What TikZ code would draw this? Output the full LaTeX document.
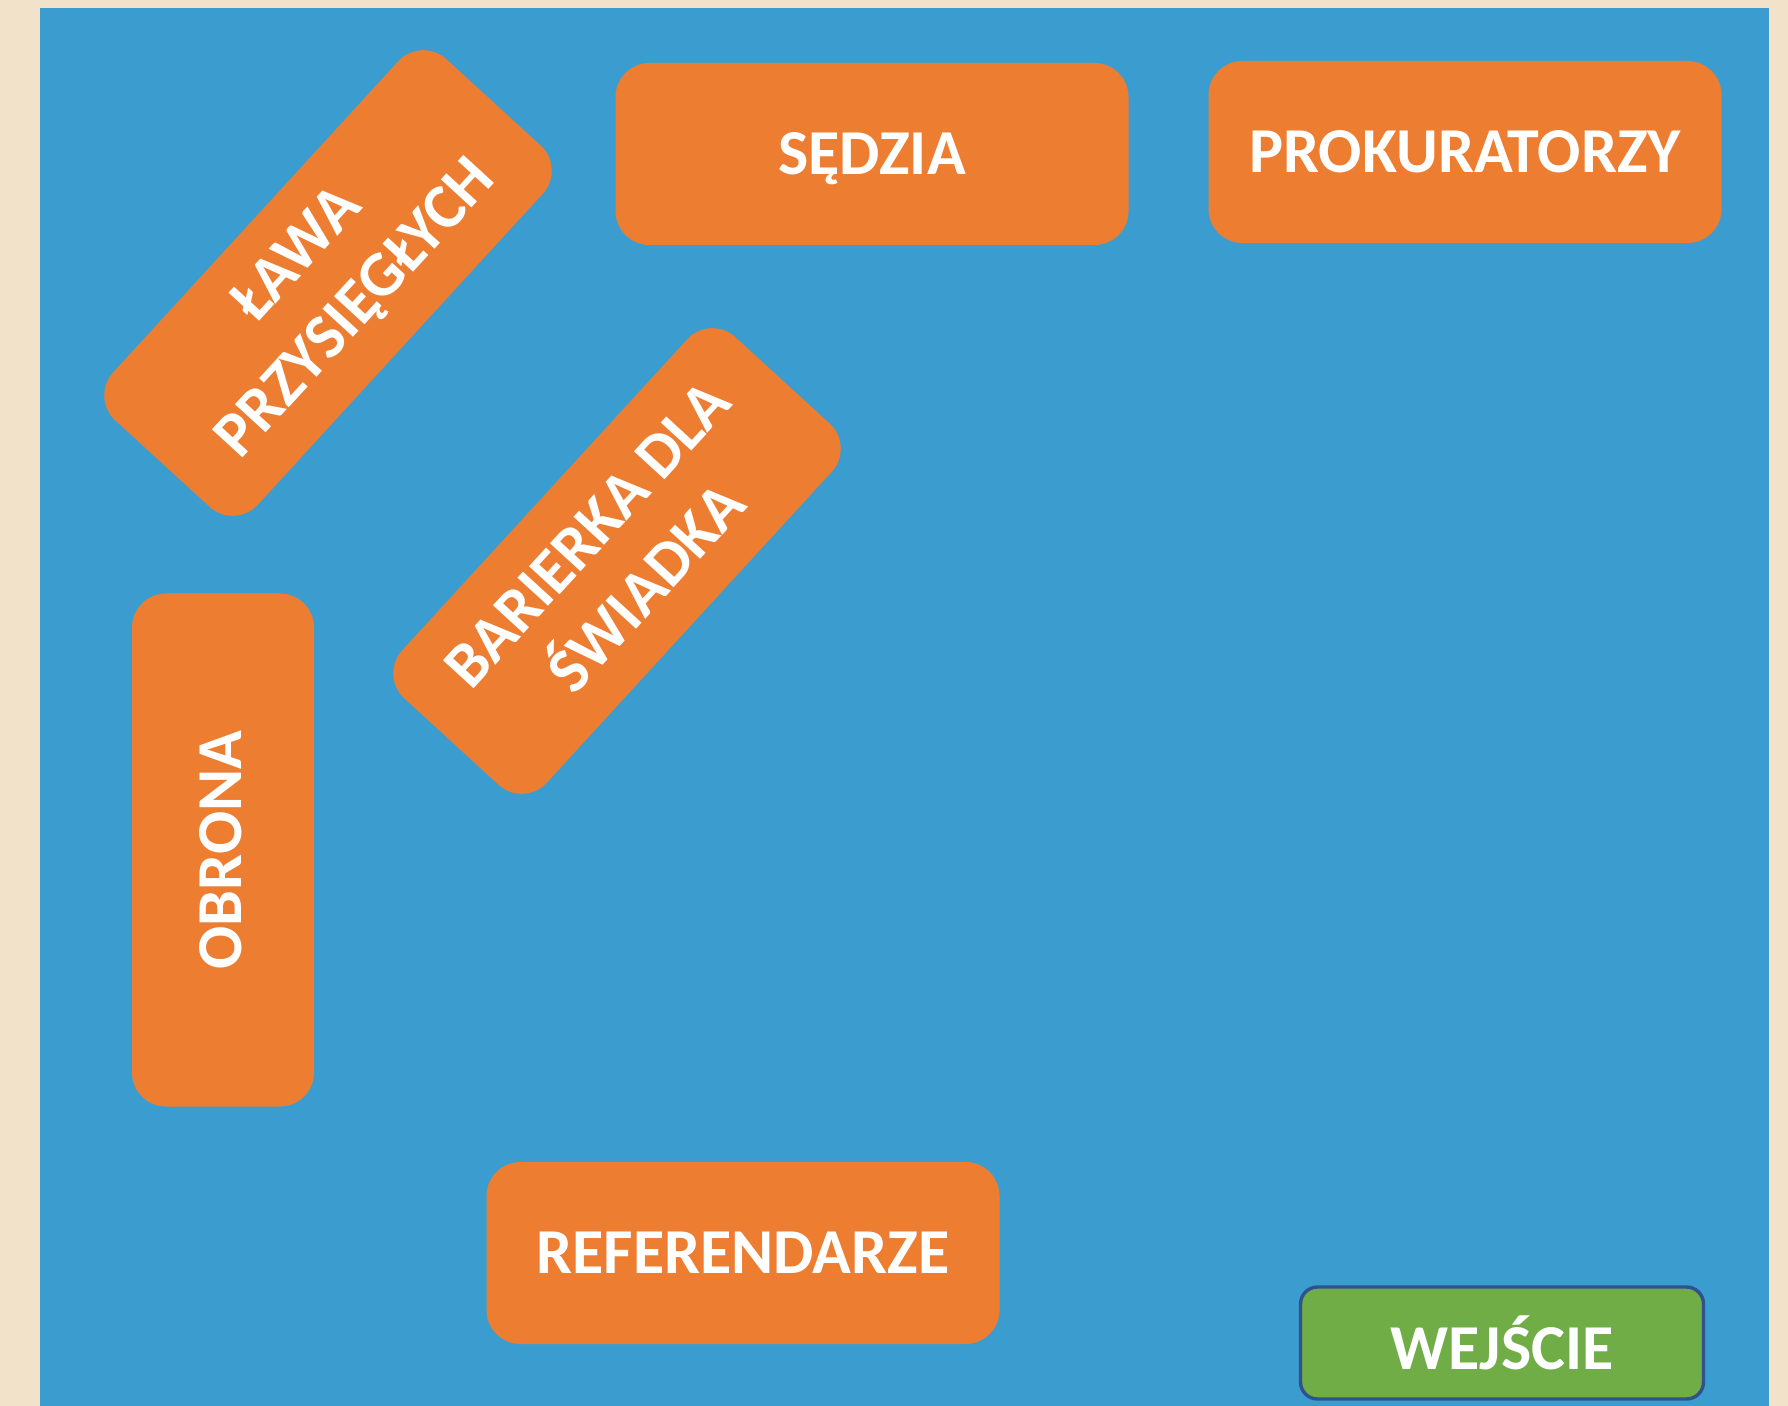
\documentclass[tikz,border=0pt]{standalone}
\usepackage{fontspec}
\setmainfont{Carlito}
\definecolor{bgbeige}{HTML}{F2E2C9}
\definecolor{roomblue}{HTML}{3B9DCF}
\definecolor{boxorange}{HTML}{ED7D31}
\definecolor{doorgreen}{HTML}{70AD47}
\definecolor{doorline}{HTML}{2F528F}
\begin{document}
\begin{tikzpicture}[x=0.5pt,y=-0.5pt,
  box/.style={fill=boxorange, rounded corners=17pt, text=white,
    font=\bfseries\fontsize{32}{40}\selectfont, align=center, inner sep=0pt,
    minimum width=256.5pt, minimum height=91pt},
  tiltbox/.style={box, rotate=47.5, minimum width=245pt, minimum height=98pt},
  door/.style={fill=doorgreen, draw=doorline, line width=1.7pt, rounded corners=8.5pt,
    text=white, font=\bfseries\fontsize{32}{36}\selectfont, inner sep=0pt,
    minimum width=201.5pt, minimum height=56pt}]
\useasboundingbox (0,0) rectangle (1788,1406);
\fill[bgbeige] (0,0) rectangle (1788,1406);
\fill[roomblue] (40,8) rectangle (1769,1406);
\node[box, text depth=0pt] (sedzia) at (872,154) {SĘDZIA};
\node[box] (prok) at (1465,152) {PROKURATORZY};
\node[box] (ref) at (743,1253) {REFERENDARZE};
\node[box, rotate=90, text depth=2pt] (obrona) at (223,850) {OBRONA};
\node[tiltbox] (lawa) at (328,283) {ŁAWA\\PRZYSIĘGŁYCH};
\node[tiltbox] (bar) at (617,561) {BARIERKA DLA\\ŚWIADKA};
\node[door] (wej) at (1502,1343) {WEJŚCIE};
\end{tikzpicture}
\end{document}
